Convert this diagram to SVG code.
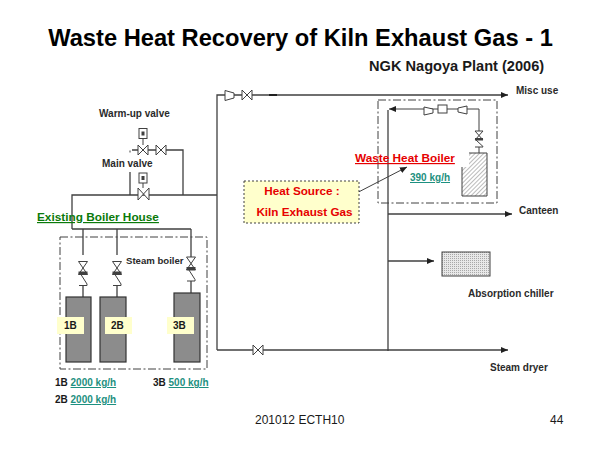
<svg xmlns="http://www.w3.org/2000/svg" width="600" height="450" viewBox="0 0 600 450">
<style>
text{font-family:"Liberation Sans",Arial,sans-serif;fill:#1a1a1a}
.b{font-weight:bold}
.s{font-size:10px;font-weight:bold;fill:#2a2a2a}
.l{font-size:10px;font-weight:bold;fill:#1d9080;text-decoration:underline}
.k{font-size:10px;font-weight:bold}
.red{fill:#e60000;font-weight:bold}
.pipe{fill:none;stroke:#404040;stroke-width:1.3}
.thin{fill:none;stroke:#404040;stroke-width:1}
.sym{fill:#fff;stroke:#404040;stroke-width:1}
.dash{fill:none;stroke:#404040;stroke-width:1;stroke-dasharray:8 2.500 2 2.500}
.boiler{fill:#8c8c8c;stroke:#333;stroke-width:1.2}
.tag{fill:#ffffcc}
</style>
<defs>
<marker id="arr" markerUnits="userSpaceOnUse" markerWidth="8" markerHeight="7" refX="7" refY="3" orient="auto"><path d="M0 0L7 3L0 6z" fill="#202020"/></marker>
<symbol id="vh" overflow="visible"><path class="sym" d="M-5-5L5 5V-5L-5 5z"/></symbol>
<symbol id="vv" overflow="visible"><path class="sym" d="M-4.500-6.500H4.500L-4.500 6.500H4.500z"/><rect x="-4.500" y="3.500" width="9" height="3" fill="#404040"/></symbol>
<symbol id="chk" overflow="visible"><path class="thin" d="M-3 0L4 11V12.500H-4"/></symbol>
<symbol id="act" overflow="visible"><rect class="sym" x="-4" y="-5" width="8" height="10"/><rect x="-1.500" y="-2" width="3" height="4" fill="#404040"/></symbol>
<pattern id="hatch" width="3" height="3" patternUnits="userSpaceOnUse" patternTransform="rotate(-45)"><rect width="3" height="3" fill="#fff"/><line x1="0" y1="0" x2="3" y2="0" stroke="#777" stroke-width="1"/></pattern>
<pattern id="dots" width="2" height="2" patternUnits="userSpaceOnUse"><rect width="2" height="2" fill="#e8e8e8"/><rect width="1" height="1" fill="#a8a8a8"/></pattern>
</defs>
<rect width="600" height="450" fill="#fff"/>
<g id="title">
<text class="b" x="300.500" y="46" font-size="23.700" text-anchor="middle" style="fill:#000">Waste Heat Recovery of Kiln Exhaust Gas - 1</text>
<text class="b" x="369" y="71" font-size="14.600">NGK Nagoya Plant (2006)</text>
</g>
<g id="connectors">
<path class="pipe" d="M72 229V195H217M217 350V95H508" marker-end="url(#arr)"/>
<path class="pipe" d="M72 229H191M83 229V255M117 229V255M191 229V257"/>
<path class="pipe" d="M83 286V297M117 286V297M191 281V293"/>
<path class="pipe" d="M217 350H508" marker-end="url(#arr)"/>
<path class="pipe" d="M132 150H183V195M130 172V195"/>
<path class="pipe" d="M388 351V110"/>
<path class="thin" d="M479 131V109H389" marker-end="url(#arr)"/>
<path class="thin" d="M479 147V153"/>
<path class="pipe" d="M388 214H512" marker-end="url(#arr)"/>
<path class="pipe" d="M388 261H434" marker-end="url(#arr)"/>
<path class="thin" d="M345 199L407 167" marker-end="url(#arr)"/>
<path d="M269 95H277" stroke="#202020" stroke-width="2"/>
</g>
<g id="warm-up-valve">
<text class="s" x="99" y="117">Warm-up valve</text>
<use href="#act" x="143" y="133.500"/>
<path class="thin" d="M143 139V145"/>
<use href="#vh" x="143" y="150"/>
<use href="#vh" x="161" y="150"/>
<path class="thin" d="M130 150.500V152.500"/>
</g>
<g id="main-valve">
<text class="s" x="102" y="167">Main valve</text>
<use href="#act" x="143" y="178"/>
<path class="thin" d="M143 183V188"/>
<path class="sym" d="M138 188L149 200V188L138 200z"/>
</g>
<g id="existing-boiler-house">
<text x="37" y="221" font-size="11.800" style="fill:#0a7a0a;font-weight:bold;text-decoration:underline">Existing Boiler House</text>
<rect class="dash" x="60" y="237" width="147" height="132"/>
<text class="s" x="126" y="264" style="font-size:9.600px">Steam boiler</text>
</g>
<g id="boiler-1b">
<use href="#vv" x="83" y="268"/><use href="#chk" x="83" y="273"/>
<rect class="boiler" x="66" y="297" width="25" height="65"/>
<rect class="tag" x="57" y="317" width="27" height="17"/>
<text class="k" x="64" y="329">1B</text>
</g>
<g id="boiler-2b">
<use href="#vv" x="117" y="268"/><use href="#chk" x="117" y="273"/>
<rect class="boiler" x="100" y="297" width="26" height="65"/>
<rect class="tag" x="105" y="317" width="27" height="17"/>
<text class="k" x="111" y="329">2B</text>
</g>
<g id="boiler-3b">
<use href="#vv" x="191" y="263.500"/><use href="#chk" x="191" y="268.500"/>
<rect class="boiler" x="174" y="293" width="26" height="69"/>
<rect class="tag" x="167" y="317" width="27" height="17"/>
<text class="k" x="173" y="329">3B</text>
</g>
<g id="capacities">
<text class="k" x="55" y="386">1B <tspan class="l">2000 kg/h</tspan></text>
<text class="k" x="55" y="403">2B <tspan class="l">2000 kg/h</tspan></text>
<text class="k" x="153" y="386">3B <tspan class="l">500 kg/h</tspan></text>
</g>
<g id="misc-use-line">
<path class="sym" d="M225 90.500L234 93V98L225 100.500z"/>
<use href="#vh" x="247" y="95"/>
<text class="s" x="516" y="94">Misc use</text>
</g>
<g id="waste-heat-boiler">
<rect class="dash" x="378" y="100" width="119" height="103"/>
<path class="sym" d="M424 107L433 109V113L424 115z"/>
<rect class="sym" x="438" y="105" width="9" height="8"/>
<path class="sym" d="M458 108L467 106V114L458 112z"/>
<path class="sym" d="M475 131H483L475 140H483z"/><rect x="475" y="138" width="8" height="2" fill="#404040"/>
<path class="thin" d="M476 140L483 146.500V147H475"/>
<path d="M469 153H487V196H462V167H469z" fill="url(#hatch)" stroke="none"/>
<path class="thin" d="M469 153H487V196H462V167"/>
<text class="red" x="355" y="162" font-size="11.800" style="text-decoration:underline">Waste Heat Boiler</text>
<text class="l" x="410" y="181">390 kg/h</text>
</g>
<g id="heat-source">
<rect x="244" y="181" width="115" height="42" fill="#ffffcc" stroke="#404040" stroke-width="1" stroke-dasharray="2 2"/>
<text class="red" x="302" y="195" font-size="11.700" text-anchor="middle">Heat Source :</text>
<text class="red" x="304.500" y="216" font-size="11.700" text-anchor="middle">Kiln Exhaust Gas</text>
</g>
<g id="canteen"><text class="s" x="519" y="214">Canteen</text></g>
<g id="absorption-chiller">
<rect x="442" y="252" width="48" height="24" fill="url(#dots)" stroke="#404040" stroke-width="1"/>
<text class="s" x="468" y="297">Absorption chiller</text>
</g>
<g id="steam-dryer">
<use href="#vh" x="258" y="350"/>
<text class="s" x="490" y="371">Steam dryer</text>
</g>
<g id="footer">
<text x="255" y="424" font-size="12">201012 ECTH10</text>
<text x="550" y="424" font-size="12">44</text>
</g>
</svg>
